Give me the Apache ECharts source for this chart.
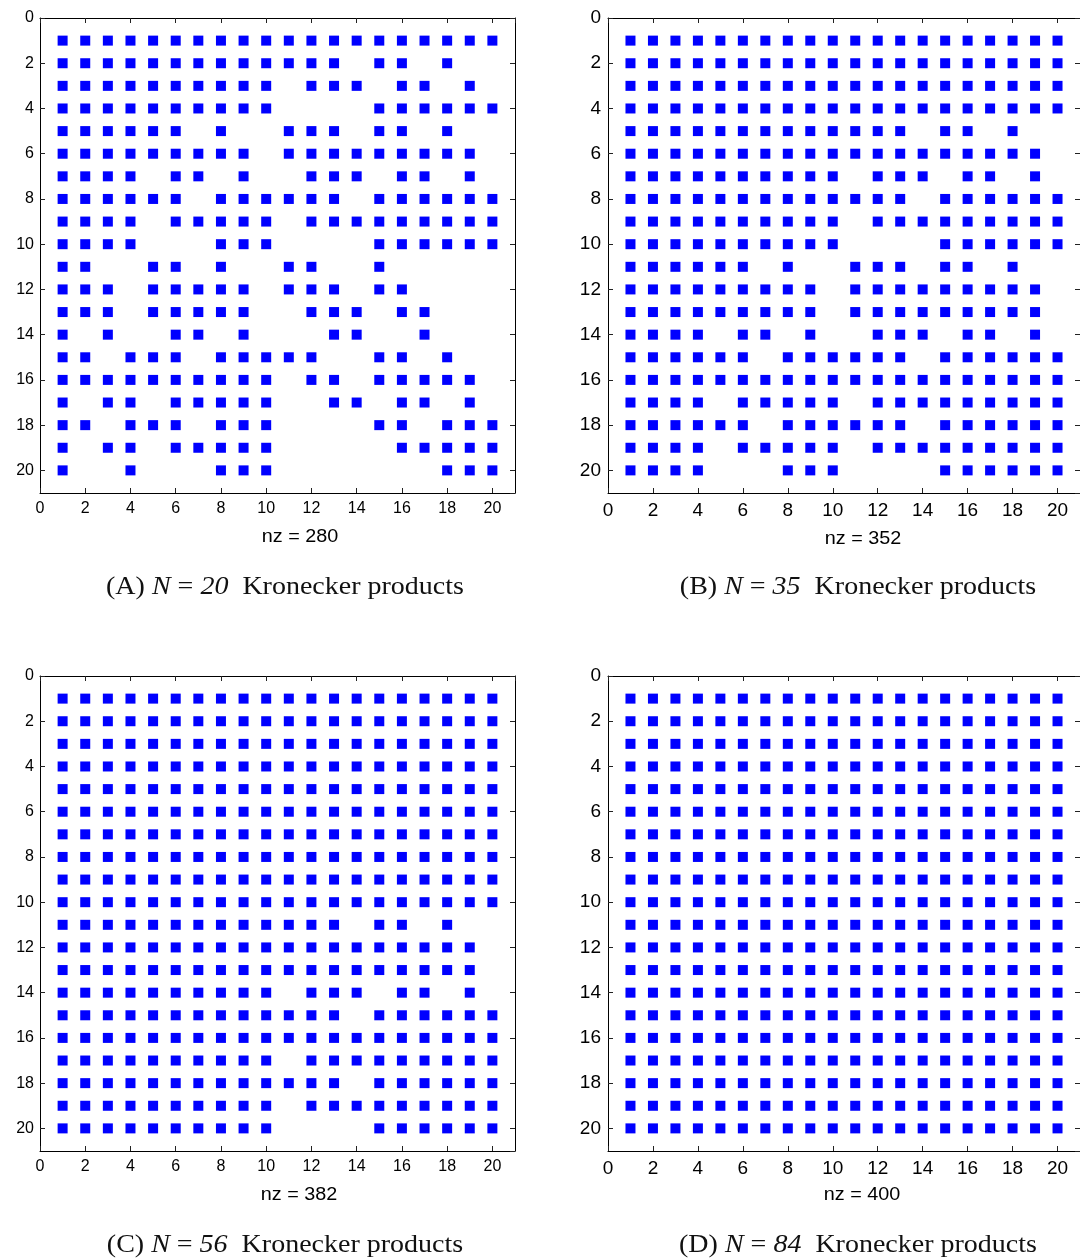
<!DOCTYPE html>
<html>
<head>
<meta charset="utf-8">
<script src="https://cdn.jsdelivr.net/npm/echarts@6/dist/echarts.min.js"></script>
<style>
  html, body { margin: 0; padding: 0; background: #fff; }
  #chart { width: 1080px; height: 1260px; }
</style>
</head>
<body>
<div id="chart"></div>
<script>
// Sparsity patterns: one string per matrix row (rows 1..20), one character per column (1..20); '1' = nonzero
const rowsA = [
  "11111111111111111111",
  "11111111111110110100",
  "11111111110111011010",
  "11111111110000111111",
  "11111101001110110100",
  "11111111101111111110",
  "11110110100111011010",
  "11111101111110111111",
  "11110111110111111111",
  "11110001110000111111",
  "11001101001100100000",
  "11101111101110110000",
  "11101111100111011000",
  "10100110100011001000",
  "11011101111100110100",
  "11111111110110111110",
  "10110111110011011010",
  "11011101110000110111",
  "10110111110000011111",
  "10010001110000000111"
];
const rowsB = [
  "11111111111111111111",
  "11111111111111111111",
  "11111111111111111111",
  "11111111111111111111",
  "11111111111110110100",
  "11111111111111111110",
  "11111111110111011010",
  "11111111111110111111",
  "11111111110111111111",
  "11111111110000111111",
  "11111101001110110100",
  "11111111101111111110",
  "11111111101111111110",
  "11110110100111011010",
  "11111101111110111111",
  "11111111111111111111",
  "11110111110111111111",
  "11111101111110111111",
  "11110111110111111111",
  "11110001110000111111"
];
const rowsC = [
  "11111111111111111111",
  "11111111111111111111",
  "11111111111111111111",
  "11111111111111111111",
  "11111111111111111111",
  "11111111111111111111",
  "11111111111111111111",
  "11111111111111111111",
  "11111111111111111111",
  "11111111111111111111",
  "11111111111110110100",
  "11111111111111111110",
  "11111111111111111110",
  "11111111110111011010",
  "11111111111110111111",
  "11111111111111111111",
  "11111111110111111111",
  "11111111111110111111",
  "11111111110111111111",
  "11111111110000111111"
];
const rowsD = [
  "11111111111111111111",
  "11111111111111111111",
  "11111111111111111111",
  "11111111111111111111",
  "11111111111111111111",
  "11111111111111111111",
  "11111111111111111111",
  "11111111111111111111",
  "11111111111111111111",
  "11111111111111111111",
  "11111111111111111111",
  "11111111111111111111",
  "11111111111111111111",
  "11111111111111111111",
  "11111111111111111111",
  "11111111111111111111",
  "11111111111111111111",
  "11111111111111111111",
  "11111111111111111111",
  "11111111111111111111"
];
const panelIds = ["A", "B", "C", "D"];
const panelN = ["20", "35", "56", "84"];
const nzLabels = ["nz = 280", "nz = 352", "nz = 382", "nz = 400"];
const axisMin = 0, axisMax = 21, axisInterval = 2;

// layout (positions / styles only)
const layout = [
  { left: 40,  top: 18,  tickFont: 16, yMargin: 6, nzX: 300, nzY: 537,  capX: 285, capY: 587 },
  { left: 608, top: 18,  tickFont: 19, yMargin: 7, nzX: 863, nzY: 539,  capX: 858, capY: 587 },
  { left: 40,  top: 676, tickFont: 16, yMargin: 6, nzX: 299, nzY: 1195, capX: 285, capY: 1245 },
  { left: 608, top: 676, tickFont: 19, yMargin: 7, nzX: 862, nzY: 1195, capX: 858, capY: 1245 }
];
const allRows = [rowsA, rowsB, rowsC, rowsD];
const SIZE = 475;

function toPoints(rows) {
  const pts = [];
  rows.forEach((r, i) => {
    for (let j = 0; j < r.length; j++) if (r[j] === '1') pts.push([j + 1, i + 1]);
  });
  return pts;
}

const grids = [], xAxes = [], yAxes = [], series = [], graphics = [];
const lineStyle = { color: '#000', width: 1 };
const tickStyle = { color: '#222', width: 1 };

layout.forEach((L, k) => {
  grids.push({ left: L.left, top: L.top, width: SIZE, height: SIZE, show: false, containLabel: false });
  const labelBase = {
    fontFamily: 'Liberation Sans, Arial, Helvetica, sans-serif',
    fontSize: L.tickFont, color: '#000', showMaxLabel: false,
    formatter: v => (v === axisMax ? '' : String(v))
  };
  // bottom x axis
  xAxes.push({
    gridIndex: k, type: 'value', position: 'bottom', min: axisMin, max: axisMax, interval: axisInterval,
    axisLine: { show: true, onZero: false, lineStyle },
    axisTick: { show: true, inside: true, length: 5, lineStyle: tickStyle },
    axisLabel: Object.assign({ margin: 8 }, labelBase),
    splitLine: { show: false }
  });
  // top x axis (frame + ticks)
  xAxes.push({
    gridIndex: k, type: 'value', position: 'top', min: axisMin, max: axisMax, interval: axisInterval,
    axisLine: { show: true, onZero: false, lineStyle },
    axisTick: { show: true, inside: true, length: 5, lineStyle: tickStyle },
    axisLabel: { show: false }, splitLine: { show: false }
  });
  // left y axis
  yAxes.push({
    gridIndex: k, type: 'value', position: 'left', inverse: true, min: axisMin, max: axisMax, interval: axisInterval,
    axisLine: { show: true, onZero: false, lineStyle },
    axisTick: { show: true, inside: true, length: 5, lineStyle: tickStyle },
    axisLabel: Object.assign({ margin: L.yMargin }, labelBase),
    splitLine: { show: false }
  });
  // right y axis (frame + ticks)
  yAxes.push({
    gridIndex: k, type: 'value', position: 'right', inverse: true, min: axisMin, max: axisMax, interval: axisInterval,
    axisLine: { show: true, onZero: false, lineStyle },
    axisTick: { show: true, inside: true, length: 5, lineStyle: tickStyle },
    axisLabel: { show: false }, splitLine: { show: false }
  });
  series.push({
    type: 'scatter', xAxisIndex: 2 * k, yAxisIndex: 2 * k,
    symbol: 'rect', symbolSize: 10,
    itemStyle: { color: '#0000ff', opacity: 1 },
    data: toPoints(allRows[k]), silent: true
  });
  graphics.push({
    type: 'text', x: L.nzX, y: L.nzY, scaleX: 1.1,
    style: {
      text: nzLabels[k], fill: '#000',
      font: '18px "Liberation Sans", Arial, sans-serif',
      align: 'center', verticalAlign: 'middle', textAlign: 'center', textVerticalAlign: 'middle'
    }
  });
  graphics.push({
    type: 'text', x: L.capX, y: L.capY, scaleX: 1.12,
    style: {
      text: '{r|(' + panelIds[k] + ') }{i|N}{r| = }{i|' + panelN[k] + '}{r|  Kronecker products}',
      rich: {
        r: { fill: '#111', fontFamily: 'Liberation Serif', fontSize: 25 },
        i: { fill: '#111', fontFamily: 'Liberation Serif', fontSize: 25, fontStyle: 'italic' }
      },
      align: 'center', verticalAlign: 'middle', textAlign: 'center', textVerticalAlign: 'middle'
    }
  });
});

const chart = echarts.init(document.getElementById('chart'), null, { renderer: 'canvas' });
chart.setOption({
  animation: false,
  backgroundColor: '#fff',
  grid: grids, xAxis: xAxes, yAxis: yAxes, series: series,
  graphic: graphics
});
</script>
</body>
</html>
